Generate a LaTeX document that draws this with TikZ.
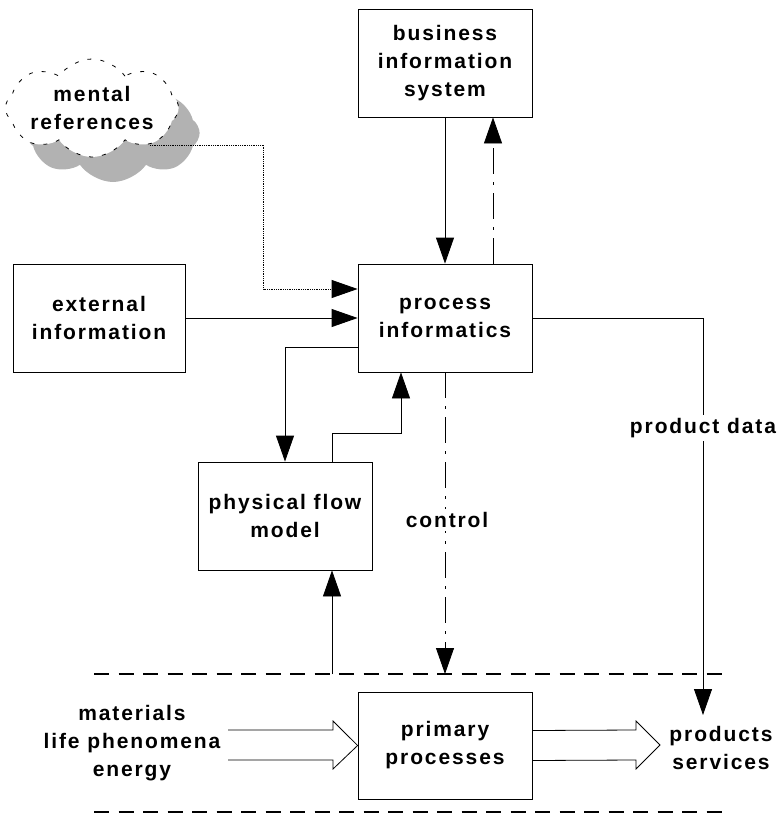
\documentclass[tikz,border=0pt]{standalone}
\usepackage{fontspec}
\setmainfont{Liberation Sans}[LetterSpace=9]
\usetikzlibrary{arrows.meta,shapes.symbols,shadows}

\tikzset{
    txt/.style={align=center, inner sep=0pt, font=\bfseries\fontsize{21}{28}\selectfont},
    box/.style={txt, draw, line width=0.8pt, minimum width=174pt, minimum height=108pt},
    arr/.style={line width=0.8pt, -{Triangle[length=26pt, width=18pt]}},
    dashdot/.style={dash pattern=on 26pt off 8pt on 3pt off 8pt},
    sep/.style={line width=2pt, dash pattern=on 15pt off 9.5pt},
    fat/.style={line width=0.8pt, line join=miter}
}

\begin{document}
\begin{tikzpicture}[x=1pt, y=-1pt]
    \useasboundingbox (0,0) rectangle (781,814);

    % boxes
    \node[box] (bis) at (445,63) {business\\information\\system};
    \node[box] (procinf) at (445,318) {process\\informatics};
    \node[box, minimum width=172pt] (extinfo) at (99,318) {external\\information};
    \node[box] (physflow) at (285,516) {physical flow\\model};
    \node[box, minimum height=107pt] (primproc) at (445,745.5) {primary\\processes};

    \node[txt, cloud, cloud puffs=8, cloud puff arc=110, cloud ignores aspect,
          minimum width=146pt, minimum height=98pt,
          draw, fill=white, line width=0.8pt, dash pattern=on 4pt off 9pt,
          drop shadow={shadow xshift=21pt, shadow yshift=-25pt, fill=gray!60, opacity=1}]
        (mental) at (92,108) {mental\\references};

    \node[txt] (inputs) at (132,743) {materials\\life phenomena\\energy};
    \node[txt] (outputs) at (721,748) {products\\services};

    % separators
    \coordinate (topL) at (94,674);
    \foreach \y in {674,812}
        \draw[sep] (94,\y) -- (730,\y);

    % information flows
    \draw[arr] (bis) -- (procinf);
    \draw[arr, dashdot] ([xshift=48pt]procinf.north) -- ([xshift=48pt]bis.south);
    \draw[arr] (extinfo) -- (procinf);
    \coordinate (mentalout) at (150,145);
    \draw[arr, densely dotted] (mentalout) -| ([xshift=-94pt, yshift=29pt]procinf.west)
        -- ([yshift=29pt]procinf.west);
    \draw[arr] ([yshift=-29pt]procinf.west) -| (physflow.north);
    \draw[arr] ([xshift=47pt]physflow.north) -- ++(0,-28) -| ([xshift=-44pt]procinf.south);
    \draw[arr] ([xshift=47pt]physflow.south |- topL) -- ([xshift=47pt]physflow.south);

    \draw[arr, dashdot] (procinf.south) -- (procinf.south |- topL);
    \node[txt, fill=white, inner sep=3pt] (ctrl) at (447,520) {control};

    \coordinate (pdend) at (703,715);
    \draw[arr] (procinf.east) -| (pdend);
    \node[txt, fill=white, inner sep=3pt] (pdata) at (703,428) {product data};

    % physical flows
    \draw[fat] (228,730) -- (333,730) -- (333,721) -- (primproc.west)
        -- (333,769) -- (333,760) -- (228,760);
    \draw[fat] ([yshift=15pt]primproc.east) -- (636,730) -- (636,721) -- (660,745)
        -- (636,769) -- (636,760) -- ([yshift=-15pt]primproc.east);
\end{tikzpicture}
\end{document}
